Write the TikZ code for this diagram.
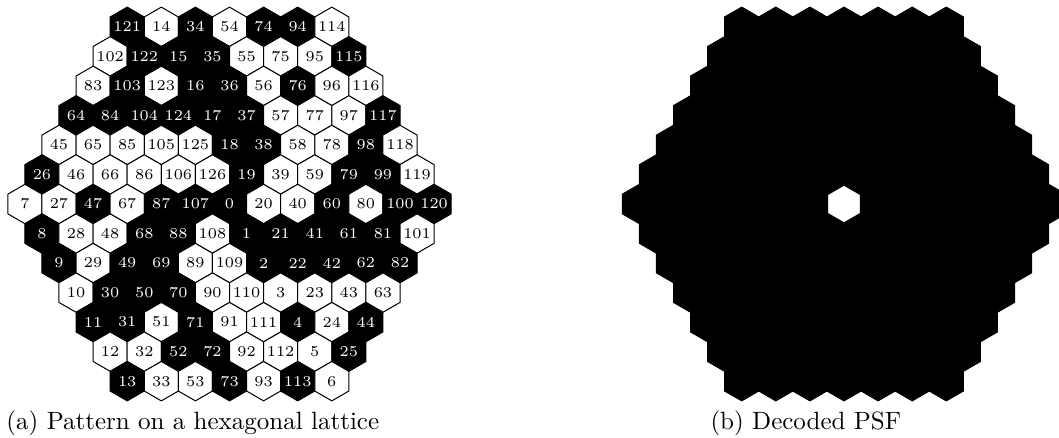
\documentclass[tikz,border=0pt]{standalone}
\colorlet{b}{black}
\colorlet{w}{white}
\colorlet{tb}{white}
\colorlet{tw}{black}
\begin{document}
\begin{tikzpicture}[x=0.4pt,y=-0.4pt,
  hex/.style={draw=black,line width=0.4pt},
  num/.style={font=\fontsize{6}{7}\selectfont,inner sep=0pt},
  caption/.style={anchor=base west,inner sep=0pt}]
  \useasboundingbox (0,0) rectangle (1059,438);
  \def\hexr{19.69}

  % (a) pattern on the lattice, row by row
  \foreach \r/\row in {0/{121/b,14/w,34/b,54/w,74/b,94/b,114/w},
      1/{102/w,122/b,15/b,35/b,55/w,75/w,95/w,115/b},
      2/{83/w,103/b,123/w,16/b,36/b,56/w,76/b,96/w,116/w},
      3/{64/b,84/b,104/b,124/b,17/b,37/b,57/w,77/w,97/w,117/b},
      4/{45/w,65/w,85/w,105/w,125/w,18/b,38/b,58/w,78/w,98/b,118/w},
      5/{26/b,46/w,66/w,86/w,106/w,126/w,19/b,39/w,59/w,79/b,99/b,119/w},
      6/{7/w,27/w,47/b,67/w,87/b,107/b,0/b,20/w,40/w,60/b,80/w,100/b,120/b},
      7/{8/b,28/w,48/w,68/b,88/b,108/w,1/b,21/b,41/b,61/b,81/b,101/w},
      8/{9/b,29/w,49/b,69/b,89/w,109/w,2/b,22/b,42/b,62/b,82/b},
      9/{10/w,30/b,50/b,70/b,90/w,110/w,3/w,23/w,43/w,63/w},
      10/{11/b,31/b,51/w,71/b,91/w,111/w,4/b,24/w,44/b},
      11/{12/w,32/w,52/b,72/b,92/w,112/w,5/w,25/b},
      12/{13/b,33/w,53/w,73/b,93/w,113/b,6/w}}{
    \pgfmathtruncatemacro\nr{13-abs(\r-6)}
    \foreach \n/\c [count=\k from 0] in \row{
      \pgfmathsetmacro\px{229.5+(\k-(\nr-1)/2)*34.1}
      \pgfmathsetmacro\py{204+(\r-6)*29.53}
      \draw[hex,fill=\c] (\px,\py) +(30:\hexr) -- +(90:\hexr) -- +(150:\hexr)
        -- +(210:\hexr) -- +(270:\hexr) -- +(330:\hexr) -- cycle;
      \node[num,text=t\c] (h\n) at (\px,\py) {\n};
    }
  }

  % (b) decoded PSF
  \foreach \r in {0,...,12}{
    \pgfmathtruncatemacro\nr{13-abs(\r-6)}
    \foreach \k in {1,...,\nr}{
      \pgfmathsetmacro\px{844+(\k-1-(\nr-1)/2)*34.1}
      \pgfmathsetmacro\py{204+(\r-6)*29.53}
      \draw[hex,fill=black] (\px,\py) +(30:\hexr) -- +(90:\hexr) -- +(150:\hexr)
        -- +(210:\hexr) -- +(270:\hexr) -- +(330:\hexr) -- cycle;
    }
  }
  \draw[hex,line width=1pt,fill=white] (844,204) +(30:\hexr) -- +(90:\hexr) -- +(150:\hexr)
    -- +(210:\hexr) -- +(270:\hexr) -- +(330:\hexr) -- cycle;

  \node[caption] (capa) at (6,430) {(a) Pattern on a hexagonal lattice};
  \node[caption] (capb) at (710,430) {(b) Decoded PSF};
\end{tikzpicture}
\end{document}
